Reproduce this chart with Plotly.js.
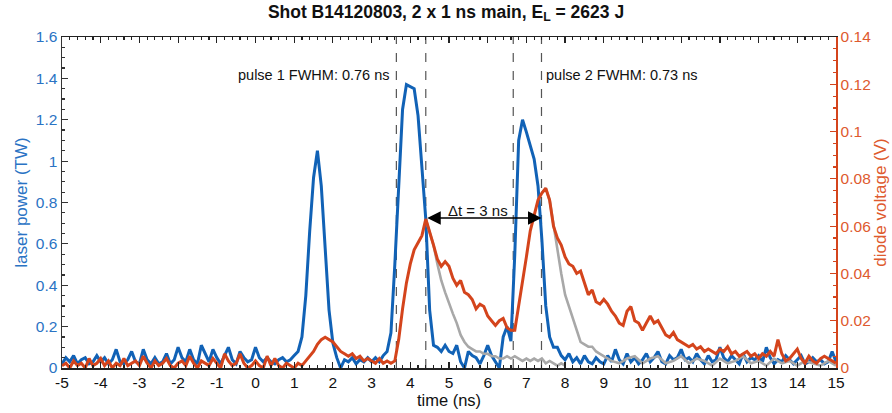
<!DOCTYPE html>
<html>
<head>
<meta charset="utf-8">
<script src="https://cdn.plot.ly/plotly-3.0.1.min.js"></script>
<style>html,body{margin:0;padding:0;background:#fff;}#chart{width:892px;height:413px;}</style>
</head>
<body>
<div id="chart"></div>
<script>
// time grid (ns), 0.1 ns sampling from -5 to 15
const tStart = -5, tStep = 0.1, nPts = 201;
const time = Array.from({length: nPts}, (_, i) => +(tStart + i * tStep).toFixed(1));

// x tick values and labels (hyphen minus as in the reference)
const xTickVals = [-5,-4,-3,-2,-1,0,1,2,3,4,5,6,7,8,9,10,11,12,13,14,15];
const xTickText = ['-5','-4','-3','-2','-1','0','1','2','3','4','5','6','7','8','9','10','11','12','13','14','15'];

// laser power (TW), left axis
const laserPower = [
  0.02,0.05,0.03,0.06,0.02,0.04,0.05,0.02,0.03,0.06,
  0.03,0.05,0.02,0.04,0.09,0.03,0.02,0.04,0.08,0.03,
  0.02,0.09,0.04,0.02,0.05,0.02,0.03,0.07,0.02,0.04,
  0.10,0.05,0.03,0.09,0.04,0.02,0.11,0.07,0.03,0.09,
  0.05,0.02,0.06,0.10,0.04,0.02,0.08,0.05,0.03,0.04,
  0.10,0.05,0.03,0.05,0.03,0.02,0.04,0.05,0.03,0.04,
  0.06,0.08,0.15,0.35,0.66,0.92,1.05,0.88,0.58,0.28,
  0.12,0.05,0.00,0.04,0.03,0.05,0.02,0.04,0.03,0.05,
  0.03,0.05,0.03,0.06,0.08,0.17,0.50,0.90,1.25,1.37,
  1.36,1.35,1.22,0.98,0.72,0.28,0.11,0.10,0.08,0.11,
  0.08,0.07,0.11,0.03,0.00,0.08,0.06,0.05,0.02,0.06,
  0.11,0.06,0.03,0.00,0.15,0.20,0.13,0.55,1.10,1.20,
  1.14,1.08,1.01,0.88,0.62,0.30,0.15,0.10,0.10,0.06,
  0.04,0.07,0.03,0.05,0.02,0.06,0.03,0.02,0.05,0.03,
  0.02,0.06,0.03,0.09,0.04,0.02,0.07,0.03,0.05,0.02,
  0.04,0.07,0.03,0.05,0.08,0.03,0.02,0.06,0.04,0.05,
  0.09,0.04,0.05,0.03,0.07,0.04,0.02,0.06,0.03,0.04,
  0.10,0.05,0.03,0.06,0.04,0.02,0.07,0.03,0.05,0.04,
  0.06,0.03,0.10,0.05,0.02,0.04,0.03,0.06,0.04,0.02,
  0.04,0.06,0.02,0.03,0.05,0.03,0.04,0.02,0.03,0.08,
  0.03
];

// diode voltage (V), right axis
const diodeVoltage = [
  0.001,0.002,0.000,0.003,0.001,0.002,0.000,0.004,0.001,0.002,
  0.004,0.001,0.003,0.000,0.002,0.001,0.004,0.001,0.002,0.003,
  0.001,0.005,0.002,0.000,0.003,0.001,0.002,0.004,0.001,0.000,
  0.002,0.003,0.001,0.005,0.002,0.000,0.003,0.002,0.001,0.004,
  0.002,0.000,0.006,0.003,0.001,0.002,0.006,0.002,0.000,0.001,
  0.003,0.001,0.000,0.005,0.001,0.004,0.001,0.000,0.002,0.001,
  0.000,0.002,0.001,0.003,0.005,0.007,0.010,0.012,0.013,0.012,
  0.011,0.009,0.007,0.006,0.005,0.006,0.004,0.005,0.003,0.004,
  0.003,0.002,0.004,0.002,0.003,0.002,0.003,0.012,0.025,0.036,
  0.044,0.050,0.053,0.056,0.063,0.058,0.052,0.046,0.043,0.045,
  0.043,0.038,0.035,0.037,0.032,0.031,0.029,0.025,0.027,0.026,
  0.022,0.020,0.018,0.020,0.021,0.017,0.016,0.016,0.026,0.036,
  0.047,0.058,0.065,0.071,0.074,0.076,0.071,0.060,0.055,0.052,
  0.047,0.044,0.043,0.040,0.041,0.036,0.031,0.033,0.028,0.027,
  0.029,0.027,0.024,0.022,0.019,0.018,0.024,0.026,0.020,0.019,
  0.016,0.019,0.022,0.019,0.020,0.017,0.014,0.013,0.015,0.012,
  0.011,0.010,0.009,0.010,0.008,0.009,0.007,0.008,0.007,0.006,
  0.008,0.007,0.009,0.006,0.007,0.005,0.006,0.007,0.005,0.006,
  0.004,0.006,0.005,0.007,0.005,0.012,0.006,0.003,0.004,0.006,
  0.008,0.004,0.002,0.005,0.003,0.002,0.004,0.005,0.004,0.003,
  0.002
];

// gray reference decay after pulse 1 (V), time 4.4 .. 8.0
const grayTime1 = [4.4,4.5,4.6,4.7,4.8,4.9,5.0,5.1,5.2,5.3,5.4,5.5,5.6,5.7,5.8,5.9,6.0,6.1,6.2,6.3,6.4,6.5,6.6,6.7,6.8,6.9,7.0,7.1,7.2,7.3,7.4,7.5,7.6,7.7,7.8,7.9,8.0];
const grayDecay1 = [0.063,0.058,0.052,0.044,0.037,0.032,0.027,0.023,0.019,0.014,0.011,0.009,0.008,0.007,0.007,0.006,0.006,0.005,0.005,0.004,0.004,0.005,0.004,0.005,0.004,0.003,0.004,0.003,0.004,0.003,0.004,0.002,0.003,0.002,0.001,0.002,0.001];

// gray reference decay after pulse 2 (V), time 7.4 .. 15
const grayTime2 = [7.4,7.5,7.6,7.7,7.8,7.9,8.0,8.1,8.2,8.3,8.4,8.5,8.6,8.7,8.8,8.9,9.0,9.2,9.4,9.6,9.8,10.0,10.2,10.4,10.6,10.8,11.0,11.2,11.4,11.6,11.8,12.0,12.2,12.4,12.6,12.8,13.0,13.2,13.4,13.6,13.8,14.0,14.2,14.4,14.6,14.8,15.0];
const grayDecay2 = [0.074,0.076,0.071,0.060,0.050,0.040,0.031,0.026,0.020,0.015,0.011,0.010,0.009,0.009,0.007,0.006,0.005,0.003,0.002,0.004,0.005,0.002,0.004,0.005,0.002,0.003,0.005,0.002,0.004,0.003,0.001,0.004,0.002,0.003,0.005,0.002,0.003,0.001,0.004,0.002,0.003,0.001,0.003,0.002,0.001,0.003,0.001];

// FWHM edges (ns) and annotation values
const fwhmEdges = [3.64, 4.40, 6.66, 7.39];
const pulseLabels = ['pulse 1 FWHM: 0.76 ns', 'pulse 2 FWHM: 0.73 ns'];
const deltaT = {from: 4.40, to: 7.39, level: 0.725, label: '\u0394t = 3 ns'};

const BLUE = '#1162b6', RED = '#d4441c', GRAY = '#a8a8a8';
const FONT = 'Liberation Sans, Arial, sans-serif';

const traces = [
  {x: time, y: laserPower, type: 'scatter', mode: 'lines', line: {color: BLUE, width: 3}, yaxis: 'y', hoverinfo: 'skip'},
  {x: grayTime1, y: grayDecay1, type: 'scatter', mode: 'lines', line: {color: GRAY, width: 2.6}, yaxis: 'y2', hoverinfo: 'skip'},
  {x: grayTime2, y: grayDecay2, type: 'scatter', mode: 'lines', line: {color: GRAY, width: 2.6}, yaxis: 'y2', hoverinfo: 'skip'},
  {x: time, y: diodeVoltage, type: 'scatter', mode: 'lines', line: {color: RED, width: 3}, yaxis: 'y2', hoverinfo: 'skip'}
];

const shapes = fwhmEdges.map(e => ({
  type: 'line', xref: 'x', yref: 'paper', x0: e, x1: e, y0: 0, y1: 1,
  line: {color: '#555', width: 1.2, dash: 'dash'}, layer: 'below'
}));

const annotations = [
  {x: fwhmEdges[0] - 0.12, y: 1.415, xref: 'x', yref: 'y', text: pulseLabels[0], showarrow: false, xanchor: 'right', yanchor: 'middle', font: {family: FONT, size: 14.5, color: '#111'}},
  {x: fwhmEdges[3] + 0.06, y: 1.415, xref: 'x', yref: 'y', text: pulseLabels[1], showarrow: false, xanchor: 'left', yanchor: 'middle', font: {family: FONT, size: 14.5, color: '#111'}},
  {x: deltaT.to, y: deltaT.level, ax: deltaT.from, ay: deltaT.level, xref: 'x', yref: 'y', axref: 'x', ayref: 'y',
   text: '', showarrow: true, arrowhead: 2, startarrowhead: 2, arrowside: 'end+start', arrowsize: 1.8, startarrowsize: 1.8, arrowwidth: 1.5, arrowcolor: '#000'},
  {x: (deltaT.from + deltaT.to) / 2 - 0.15, y: deltaT.level, xref: 'x', yref: 'y', text: deltaT.label, showarrow: false, xanchor: 'center', yanchor: 'bottom', yshift: -3, font: {family: FONT, size: 15, color: '#111'}}
];

const layout = {
  width: 892, height: 413,
  margin: {l: 62, r: 56, t: 37, b: 45},
  paper_bgcolor: '#fff', plot_bgcolor: '#fff',
  showlegend: false,
  font: {family: FONT, size: 14, color: '#111'},
  title: {text: '<b>Shot B14120803, 2 x 1 ns main, E<sub>L</sub> = 2623 J</b>', x: 0.5, xanchor: 'center', y: 0.972, yanchor: 'middle', font: {family: FONT, size: 17.5, color: '#111'}},
  xaxis: {
    range: [-5, 15], tickmode: 'array', tickvals: xTickVals, ticktext: xTickText,
    ticks: 'inside', ticklen: 6, tickcolor: '#222', tickwidth: 1.2,
    showline: true, linecolor: '#222', linewidth: 1.5, mirror: 'ticks', showgrid: false, zeroline: false,
    minor: {dtick: 0.2, tick0: 0, ticks: 'inside', ticklen: 3, tickcolor: '#222', showgrid: false},
    tickfont: {family: FONT, size: 15.5, color: '#111'},
    title: {text: 'time (ns)', font: {family: FONT, size: 16.5, color: '#111'}, standoff: 2}
  },
  yaxis: {
    range: [0, 1.6], dtick: 0.2, ticks: 'inside', ticklen: 6, tickcolor: '#333', tickwidth: 1.2,
    showline: true, linecolor: '#333', linewidth: 1.5, showgrid: false, zeroline: false,
    minor: {dtick: 0.05, ticks: 'inside', ticklen: 3, tickcolor: '#333', showgrid: false},
    tickfont: {family: FONT, size: 15.5, color: '#2a73c4'},
    title: {text: 'laser power (TW)', font: {family: FONT, size: 17, color: '#2a73c4'}, standoff: 4}
  },
  yaxis2: {
    range: [0, 0.14], dtick: 0.02, overlaying: 'y', side: 'right', ticks: 'inside', ticklen: 6, tickcolor: RED, tickwidth: 1.2,
    showline: true, linecolor: RED, linewidth: 1.5, showgrid: false, zeroline: false,
    minor: {dtick: 0.005, ticks: 'inside', ticklen: 3, tickcolor: RED, showgrid: false},
    tickfont: {family: FONT, size: 15.5, color: '#de5a2e'},
    title: {text: 'diode voltage (V)', font: {family: FONT, size: 17, color: '#de5a2e'}, standoff: 4}
  },
  shapes: shapes,
  annotations: annotations
};

Plotly.newPlot('chart', traces, layout, {displayModeBar: false, staticPlot: true});
</script>
</body>
</html>
